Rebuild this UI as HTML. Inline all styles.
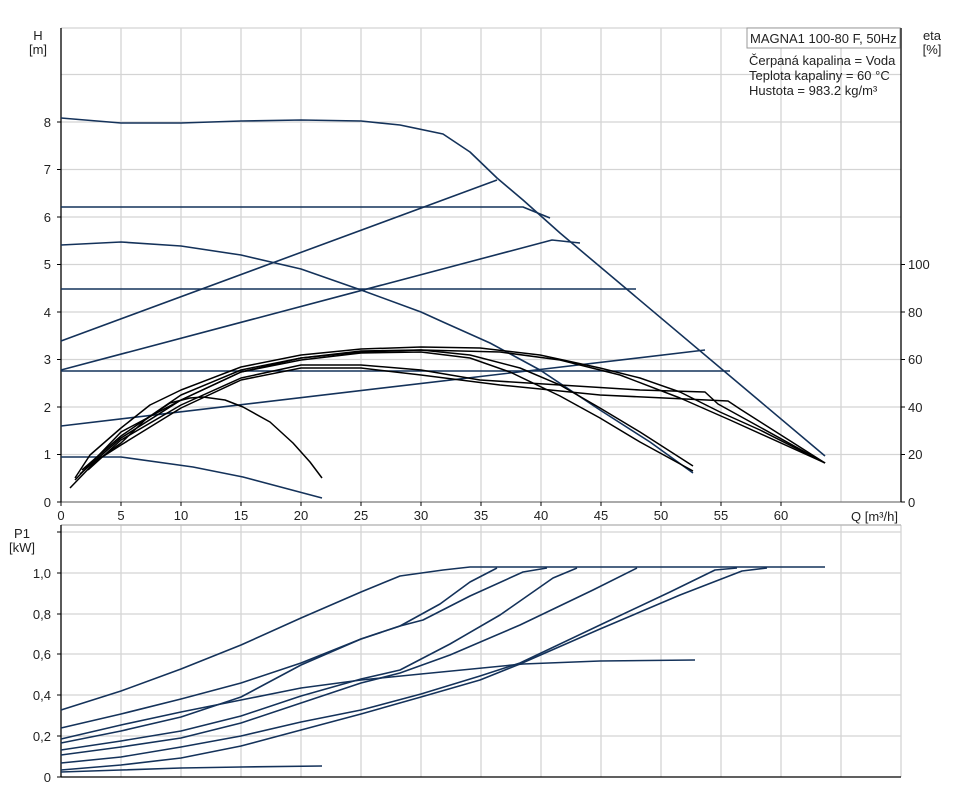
<!DOCTYPE html>
<html><head><meta charset="utf-8"><style>
body{margin:0;background:#fff;}
svg{display:block;font-family:"Liberation Sans",Arial,sans-serif;}
</style></head><body>
<svg width="961" height="800" viewBox="0 0 961 800" xmlns="http://www.w3.org/2000/svg">
<rect width="961" height="800" fill="#fff"/>
<g stroke="#d4d4d4" stroke-width="1.3">
<line x1="121" y1="28" x2="121" y2="502"/><line x1="181" y1="28" x2="181" y2="502"/><line x1="241" y1="28" x2="241" y2="502"/><line x1="301" y1="28" x2="301" y2="502"/><line x1="361" y1="28" x2="361" y2="502"/><line x1="421" y1="28" x2="421" y2="502"/><line x1="481" y1="28" x2="481" y2="502"/><line x1="541" y1="28" x2="541" y2="502"/><line x1="601" y1="28" x2="601" y2="502"/><line x1="661" y1="28" x2="661" y2="502"/><line x1="721" y1="28" x2="721" y2="502"/><line x1="781" y1="28" x2="781" y2="502"/><line x1="841" y1="28" x2="841" y2="502"/>
<line x1="61" y1="454.5" x2="901" y2="454.5"/><line x1="61" y1="407" x2="901" y2="407"/><line x1="61" y1="359.5" x2="901" y2="359.5"/><line x1="61" y1="312" x2="901" y2="312"/><line x1="61" y1="264.5" x2="901" y2="264.5"/><line x1="61" y1="217" x2="901" y2="217"/><line x1="61" y1="169.5" x2="901" y2="169.5"/><line x1="61" y1="122" x2="901" y2="122"/><line x1="61" y1="74.5" x2="901" y2="74.5"/><line x1="61" y1="28" x2="901" y2="28"/>
</g>
<line x1="61" y1="502" x2="901" y2="502" stroke="#777" stroke-width="1.3"/>
<line x1="61" y1="28" x2="61" y2="502" stroke="#000" stroke-width="1.3"/>
<line x1="901" y1="28" x2="901" y2="502" stroke="#000" stroke-width="1.3"/>
<g stroke="#000" stroke-width="1">
<line x1="57" y1="502" x2="61" y2="502"/><line x1="57" y1="454.5" x2="61" y2="454.5"/><line x1="57" y1="407" x2="61" y2="407"/><line x1="57" y1="359.5" x2="61" y2="359.5"/><line x1="57" y1="312" x2="61" y2="312"/><line x1="57" y1="264.5" x2="61" y2="264.5"/><line x1="57" y1="217" x2="61" y2="217"/><line x1="57" y1="169.5" x2="61" y2="169.5"/><line x1="57" y1="122" x2="61" y2="122"/>
<line x1="901" y1="502" x2="905" y2="502"/><line x1="901" y1="454.5" x2="905" y2="454.5"/><line x1="901" y1="407" x2="905" y2="407"/><line x1="901" y1="359.5" x2="905" y2="359.5"/><line x1="901" y1="312" x2="905" y2="312"/><line x1="901" y1="264.5" x2="905" y2="264.5"/>
<line x1="61" y1="502" x2="61" y2="506"/><line x1="121" y1="502" x2="121" y2="506"/><line x1="181" y1="502" x2="181" y2="506"/><line x1="241" y1="502" x2="241" y2="506"/><line x1="301" y1="502" x2="301" y2="506"/><line x1="361" y1="502" x2="361" y2="506"/><line x1="421" y1="502" x2="421" y2="506"/><line x1="481" y1="502" x2="481" y2="506"/><line x1="541" y1="502" x2="541" y2="506"/><line x1="601" y1="502" x2="601" y2="506"/><line x1="661" y1="502" x2="661" y2="506"/><line x1="721" y1="502" x2="721" y2="506"/><line x1="781" y1="502" x2="781" y2="506"/>
</g>
<g font-size="13" fill="#222" text-anchor="end">
<text x="51" y="507">0</text><text x="51" y="459">1</text><text x="51" y="412">2</text><text x="51" y="364">3</text><text x="51" y="317">4</text><text x="51" y="269">5</text><text x="51" y="222">6</text><text x="51" y="174">7</text><text x="51" y="127">8</text>
</g>
<g font-size="13" fill="#222">
<text x="908" y="507">0</text><text x="908" y="459">20</text><text x="908" y="412">40</text><text x="908" y="364">60</text><text x="908" y="317">80</text><text x="908" y="269">100</text>
</g>
<g font-size="13" fill="#222" text-anchor="middle">
<text x="61" y="520">0</text><text x="121" y="520">5</text><text x="181" y="520">10</text><text x="241" y="520">15</text><text x="301" y="520">20</text><text x="361" y="520">25</text><text x="421" y="520">30</text><text x="481" y="520">35</text><text x="541" y="520">40</text><text x="601" y="520">45</text><text x="661" y="520">50</text><text x="721" y="520">55</text><text x="781" y="520">60</text>
<text x="38" y="40">H</text><text x="38" y="54">[m]</text>
<text x="932" y="40">eta</text><text x="932" y="54">[%]</text>
<text x="22" y="538">P1</text><text x="22" y="552">[kW]</text>
</g>
<text x="851" y="521" font-size="13" fill="#222">Q [m³/h]</text>
<rect x="747" y="28" width="153" height="20" fill="#fff" stroke="#999"/>
<text x="750" y="43" font-size="13" fill="#222">MAGNA1 100-80 F, 50Hz</text>
<g font-size="13" fill="#222">
<text x="749" y="65">Čerpaná kapalina = Voda</text>
<text x="749" y="80">Teplota kapaliny = 60 °C</text>
<text x="749" y="95">Hustota = 983.2 kg/m³</text>
</g>
<g fill="none" stroke="#14325a" stroke-width="1.6" stroke-linejoin="round">
<polyline points="61,118 121,123 181,123 241,121 301,120 361,121 400,125 443,134 470,152 497,178 523,200 560,233 825,456"/>
<polyline points="61,207 523,207 550,218"/>
<polyline points="61,341 497,180"/>
<polyline points="61,370 552,240 580,243"/>
<polyline points="61,289 636,289"/>
<polyline points="61,426 705,350"/>
<polyline points="61,371 730,371"/>
<polyline points="61,245 121,242 181,246 241,255 301,269 361,290 421,312 443,322 490,343 540,370 600,410 650,442 693,473"/>
<polyline points="61,457 121,457 193,467 243,477 322,498"/>
</g>
<g fill="none" stroke="#000" stroke-width="1.5" stroke-linejoin="round">
<polyline points="75,478 90,455 121,428 150,405 181,390 241,367 301,355 361,349 421,347 480,348 540,355 600,368 640,378 680,392 720,412 760,430 825,463"/>
<polyline points="82,470 121,436 181,395 241,370 301,358 361,352 421,350 500,352 560,360 620,375 680,398 730,420 825,463"/>
<polyline points="88,470 121,440 181,405 241,378 301,365 361,365 421,370 480,380 560,385 640,390 705,392 718,404 825,463"/>
<polyline points="85,468 121,445 181,408 241,380 301,368 361,368 421,375 500,385 600,395 728,401 740,409 825,463"/>
<polyline points="75,480 121,432 181,400 241,372 301,358 361,351 421,350 470,355 520,368 560,385 600,408 640,432 693,466"/>
<polyline points="80,474 121,438 181,400 241,372 301,360 361,353 421,352 470,358 510,372 560,396 600,418 640,442 693,471"/>
<polyline points="70,488 95,462 121,443 145,420 170,403 190,398 203,397 225,400 243,407 270,422 293,443 310,462 322,478"/>
</g>
<g stroke="#d4d4d4" stroke-width="1.3">
<line x1="121" y1="525" x2="121" y2="777"/><line x1="181" y1="525" x2="181" y2="777"/><line x1="241" y1="525" x2="241" y2="777"/><line x1="301" y1="525" x2="301" y2="777"/><line x1="361" y1="525" x2="361" y2="777"/><line x1="421" y1="525" x2="421" y2="777"/><line x1="481" y1="525" x2="481" y2="777"/><line x1="541" y1="525" x2="541" y2="777"/><line x1="601" y1="525" x2="601" y2="777"/><line x1="661" y1="525" x2="661" y2="777"/><line x1="721" y1="525" x2="721" y2="777"/><line x1="781" y1="525" x2="781" y2="777"/><line x1="841" y1="525" x2="841" y2="777"/><line x1="901" y1="525" x2="901" y2="777"/>
<line x1="61" y1="736" x2="901" y2="736"/><line x1="61" y1="695" x2="901" y2="695"/><line x1="61" y1="654" x2="901" y2="654"/><line x1="61" y1="614" x2="901" y2="614"/><line x1="61" y1="573" x2="901" y2="573"/><line x1="61" y1="532" x2="901" y2="532"/>
</g>
<line x1="61" y1="525" x2="901" y2="525" stroke="#bbb" stroke-width="1.5"/>
<line x1="61" y1="525" x2="61" y2="777" stroke="#000" stroke-width="1.3"/>
<line x1="61" y1="777" x2="901" y2="777" stroke="#000" stroke-width="1.3"/>
<g stroke="#000" stroke-width="1">
<line x1="57" y1="777" x2="61" y2="777"/><line x1="57" y1="736" x2="61" y2="736"/><line x1="57" y1="695" x2="61" y2="695"/><line x1="57" y1="654" x2="61" y2="654"/><line x1="57" y1="614" x2="61" y2="614"/><line x1="57" y1="573" x2="61" y2="573"/><line x1="57" y1="532" x2="61" y2="532"/>
</g>
<g font-size="13" fill="#222" text-anchor="end">
<text x="51" y="782">0</text><text x="51" y="741">0,2</text><text x="51" y="700">0,4</text><text x="51" y="659">0,6</text><text x="51" y="619">0,8</text><text x="51" y="578">1,0</text>
</g>
<g fill="none" stroke="#14325a" stroke-width="1.6" stroke-linejoin="round">
<polyline points="61,710 121,691 181,669 241,645 301,618 361,592 400,576 443,570 470,567 825,567"/>
<polyline points="61,728 121,714 181,699 241,683 301,663 361,639 400,626 440,604 470,582 497,568"/>
<polyline points="61,743 121,731 181,717 241,697 301,665 361,639 400,626 423,620 470,596 523,572 547,568"/>
<polyline points="61,739 121,725 181,712 241,700 301,688 361,680 421,674 523,664 600,661 695,660"/>
<polyline points="61,750 121,741 181,731 241,716 301,696 361,679 400,670 450,644 500,615 553,578 577,568"/>
<polyline points="61,755 121,747 181,738 241,723 301,703 361,683 400,673 450,655 520,625 593,590 637,568"/>
<polyline points="61,763 121,757 181,747 241,736 301,722 361,710 421,694 480,676 520,663 600,625 670,592 715,570 737,568"/>
<polyline points="61,770 121,765 181,758 241,746 301,730 361,714 421,697 480,680 520,664 600,629 680,595 742,571 767,568"/>
<polyline points="61,772 121,770 181,768 241,767 322,766"/>
</g>
</svg>
</body></html>
